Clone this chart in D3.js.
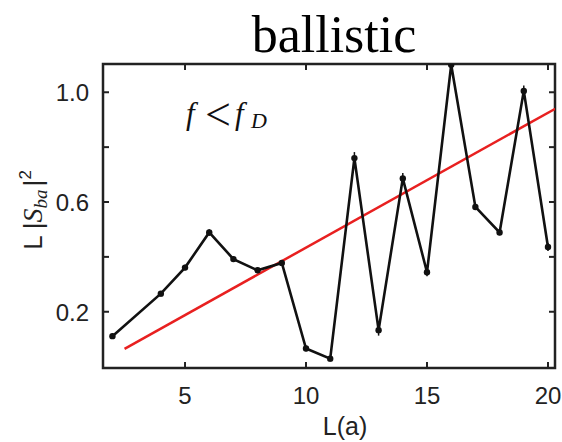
<!DOCTYPE html>
<html lang="en">
<head>
    <meta charset="UTF-8">
    <title>ballistic</title>
    <script src="https://d3js.org/d3.v7.min.js"></script>
    <style>
        body { margin: 0; background: #fff; overflow: hidden; }
        svg { display: block; }
        .tick-label { font-family: "Liberation Sans", Arial, sans-serif; font-size: 24px; fill: #222; }
    </style>
</head>
<body>
    <svg width="562" height="442"></svg>
    <script>
        // data
        const sizes = [2, 4, 5, 6, 7, 8, 9, 10, 11, 12, 13, 14, 15, 16, 17, 18, 19, 20];
        const values = [0.111, 0.266, 0.361, 0.489, 0.392, 0.351, 0.378, 0.066, 0.029, 0.76, 0.133, 0.686, 0.344, 1.10, 0.582, 0.489, 1.005, 0.436];
        const errors = [0.01, 0.01, 0.01, 0.012, 0.01, 0.01, 0.01, 0.01, 0.01, 0.022, 0.02, 0.02, 0.015, 0.02, 0.01, 0.01, 0.02, 0.015];
        const fitX = [2.5, 20.3];
        const fitY = [0.065, 0.94];
        const xTicks = [5, 10, 15, 20];
        const yTicks = [0.2, 0.6, 1.0];
        const yMinor = [0.4, 0.8];

        const plotLeft = 103, plotRight = 555, plotTop = 64, plotBottom = 368;

        const svg = d3.select("svg");

        const x = d3.scaleLinear().domain([1.61, 20.29]).range([plotLeft, plotRight]);
        const y = d3.scaleLinear().domain([-0.005, 1.103]).range([plotBottom, plotTop]);

        svg.append("defs").append("clipPath").attr("id", "plot")
            .append("rect")
            .attr("x", plotLeft).attr("y", plotTop)
            .attr("width", plotRight - plotLeft).attr("height", plotBottom - plotTop);

        // title
        svg.append("text")
            .attr("x", 334).attr("y", 52)
            .attr("text-anchor", "middle")
            .attr("font-family", "Liberation Serif, Times New Roman, serif")
            .attr("font-size", 52)
            .attr("fill", "#000")
            .text("ballistic");

        const tickLen = 6;
        const axisColor = "#222";

        // bottom / top ticks
        xTicks.forEach(t => {
            svg.append("line").attr("x1", x(t)).attr("x2", x(t))
                .attr("y1", plotBottom).attr("y2", plotBottom - tickLen)
                .attr("stroke", axisColor).attr("stroke-width", 2);
            svg.append("line").attr("x1", x(t)).attr("x2", x(t))
                .attr("y1", plotTop).attr("y2", plotTop + tickLen)
                .attr("stroke", axisColor).attr("stroke-width", 2);
            svg.append("text").attr("class", "tick-label")
                .attr("x", x(t)).attr("y", plotBottom + 36)
                .attr("text-anchor", "middle")
                .text(t);
        });

        // left / right ticks
        yTicks.concat(yMinor).forEach(t => {
            svg.append("line").attr("x1", plotLeft).attr("x2", plotLeft + tickLen)
                .attr("y1", y(t)).attr("y2", y(t))
                .attr("stroke", axisColor).attr("stroke-width", 2);
            svg.append("line").attr("x1", plotRight).attr("x2", plotRight - tickLen)
                .attr("y1", y(t)).attr("y2", y(t))
                .attr("stroke", axisColor).attr("stroke-width", 2);
        });
        yTicks.forEach(t => {
            svg.append("text").attr("class", "tick-label")
                .attr("x", plotLeft - 14).attr("y", y(t) + 9)
                .attr("text-anchor", "end")
                .text(d3.format(".1f")(t));
        });

        // frame
        svg.append("rect")
            .attr("x", plotLeft).attr("y", plotTop)
            .attr("width", plotRight - plotLeft).attr("height", plotBottom - plotTop)
            .attr("fill", "none").attr("stroke", axisColor).attr("stroke-width", 2.5);

        const g = svg.append("g").attr("clip-path", "url(#plot)");

        // red fit line
        g.append("line")
            .attr("x1", x(fitX[0])).attr("y1", y(fitY[0]))
            .attr("x2", x(fitX[1])).attr("y2", y(fitY[1]))
            .attr("stroke", "#e82020").attr("stroke-width", 2.5);

        const pts = sizes.map((s, i) => ({ s: s, v: values[i], e: errors[i] }));

        const line = d3.line().x(d => x(d.s)).y(d => y(d.v));
        g.append("path")
            .datum(pts)
            .attr("d", line)
            .attr("fill", "none")
            .attr("stroke", "#111")
            .attr("stroke-width", 2.6)
            .attr("stroke-linejoin", "miter");

        g.selectAll(".err")
            .data(pts)
            .enter().append("line")
            .attr("x1", d => x(d.s)).attr("x2", d => x(d.s))
            .attr("y1", d => y(d.v - d.e)).attr("y2", d => y(d.v + d.e))
            .attr("stroke", "#111").attr("stroke-width", 1.5);

        g.selectAll(".pt")
            .data(pts)
            .enter().append("circle")
            .attr("cx", d => x(d.s)).attr("cy", d => y(d.v))
            .attr("r", 3.2)
            .attr("fill", "#111");

        // annotation f < f_D
        const serif = "Liberation Serif, Times New Roman, serif";
        const annY = 124;
        svg.append("text").attr("x", 186).attr("y", annY)
            .attr("font-family", serif).attr("font-size", 31).attr("font-style", "italic")
            .attr("fill", "#111").text("f");
        svg.append("text").attr("x", 205).attr("y", annY + 6)
            .attr("font-family", serif).attr("font-size", 46)
            .attr("fill", "#111").text("<");
        svg.append("text").attr("x", 235).attr("y", annY)
            .attr("font-family", serif).attr("font-size", 31).attr("font-style", "italic")
            .attr("fill", "#111").text("f");
        svg.append("text").attr("x", 251).attr("y", annY + 4)
            .attr("font-family", serif).attr("font-size", 22).attr("font-style", "italic")
            .attr("fill", "#111").text("D");

        // x label
        svg.append("text")
            .attr("x", 345).attr("y", 435)
            .attr("text-anchor", "middle")
            .attr("font-family", "Liberation Sans, Arial, sans-serif")
            .attr("font-size", 25)
            .attr("fill", "#222")
            .text("L(a)");

        // y label  L |S_ba|^2
        const yl = svg.append("text")
            .attr("transform", "translate(42,210) rotate(-90)")
            .attr("text-anchor", "middle")
            .attr("font-family", "Liberation Sans, Arial, sans-serif")
            .attr("font-size", 26)
            .attr("fill", "#222");
        yl.append("tspan").text("L |");
        yl.append("tspan").attr("font-style", "italic").attr("font-family", serif).attr("font-size", 28).text("S");
        yl.append("tspan").attr("font-style", "italic").attr("font-family", serif)
            .attr("font-size", 19).attr("dy", 5).text("ba");
        yl.append("tspan").attr("dy", -5).attr("dx", 3).text("|");
        yl.append("tspan").attr("font-size", 17).attr("dy", -11).text("2");
    </script>
</body>
</html>
